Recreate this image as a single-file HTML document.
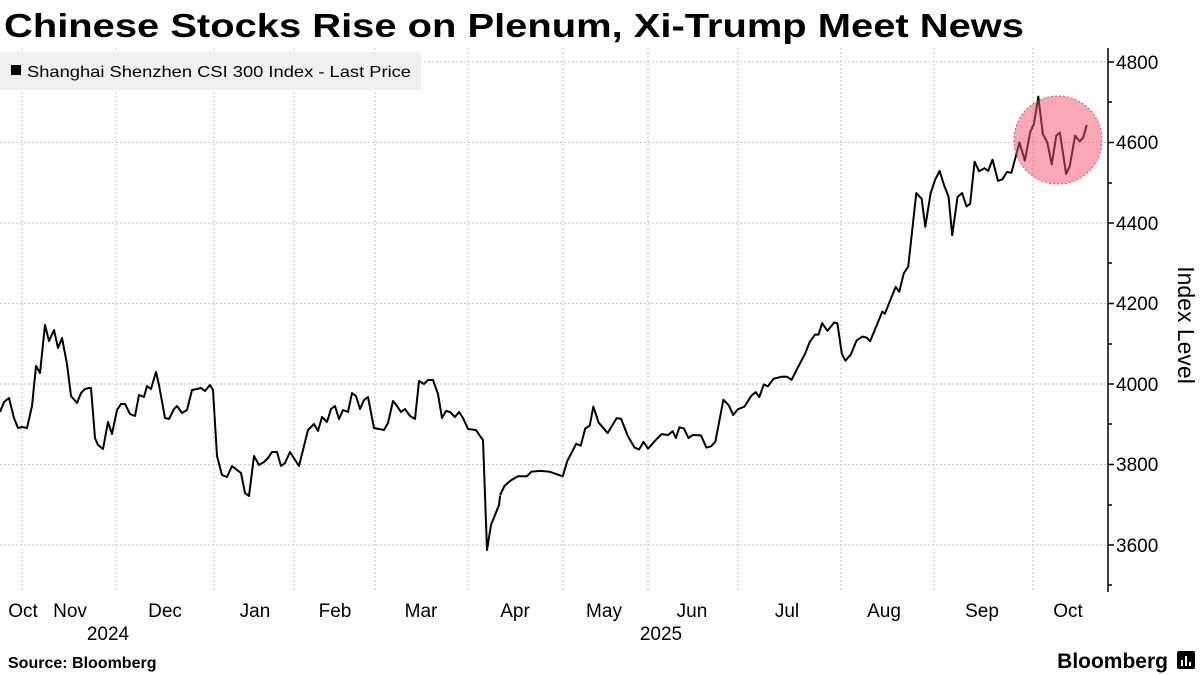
<!DOCTYPE html>
<html><head><meta charset="utf-8"><style>
html,body{margin:0;padding:0;background:#fff;}
svg{display:block;}
</style></head><body>
<svg width="1200" height="675" viewBox="0 0 1200 675" xmlns="http://www.w3.org/2000/svg" font-family="Liberation Sans, sans-serif">
<text x="4" y="37" font-size="33" font-weight="bold" fill="#000" textLength="1020" lengthAdjust="spacingAndGlyphs">Chinese Stocks Rise on Plenum, Xi-Trump Meet News</text>
<g stroke="#c8c8c8" stroke-width="1" stroke-dasharray="2,2">
<line x1="0" x2="1108" y1="62" y2="62"/><line x1="0" x2="1108" y1="142.5" y2="142.5"/><line x1="0" x2="1108" y1="223" y2="223"/><line x1="0" x2="1108" y1="303.5" y2="303.5"/><line x1="0" x2="1108" y1="384" y2="384"/><line x1="0" x2="1108" y1="464.5" y2="464.5"/><line x1="0" x2="1108" y1="545" y2="545"/>
<line x1="22" x2="22" y1="48" y2="592"/><line x1="116" x2="116" y1="48" y2="592"/><line x1="214" x2="214" y1="48" y2="592"/><line x1="294" x2="294" y1="48" y2="592"/><line x1="375" x2="375" y1="48" y2="592"/><line x1="468" x2="468" y1="48" y2="592"/><line x1="563" x2="563" y1="48" y2="592"/><line x1="648" x2="648" y1="48" y2="592"/><line x1="738" x2="738" y1="48" y2="592"/><line x1="841" x2="841" y1="48" y2="592"/><line x1="934" x2="934" y1="48" y2="592"/><line x1="1033" x2="1033" y1="48" y2="592"/>
</g>
<rect x="0" y="52" width="421" height="38" fill="#f0f0f0"/>
<rect x="11" y="65" width="10" height="10" fill="#000"/>
<text x="27" y="77" font-size="16" fill="#000" textLength="384" lengthAdjust="spacingAndGlyphs">Shanghai Shenzhen CSI 300 Index - Last Price</text>
<g fill="none" stroke="#000" stroke-width="2" stroke-linejoin="round">
<polyline points="0,412 4,402 9,398 14,418 18,428 22,427 27,428 32,406 36,366 40,373 45,325 49,341 54,330 58,348 62,338 67,364 71,396 77,403 81,393 85,389 89,388 91,388 95,438 98,445 103,449 108,422 112,434 117,410 121,404 125,404 130,414 135,416 139,395 144,397 147,386 151,389 156,372 159,385 165,418 169,419 174,409 177,406 182,413 187,410 192,390 197,389 201,388 205,391 210,385 213,390 217,456 222,475 227,477 232,466 237,470 241,473 245,493 249,496 254,456 259,465 264,462 268,458 272,452 277,452 281,466 285,463 290,452 299,466 308,430 314,424 318,431 322,417 327,422 331,409 335,406 339,419 343,410 348,412 352,393 356,396 360,409 364,400 368,397 374,428 384,430 388,423 393,401 397,406 401,412 405,409 410,416 415,419 419,381 424,384 428,380 433,380 438,394 442,418 446,411 450,412 455,417 459,412 463,418 468,429 476,430 480,436 483,440 487,550 491,525 499,505 500,496"/>
<g transform="translate(500,40) scale(0.4486,0.3827)">
<polyline vector-effect="non-scaling-stroke" points="0,1190 10,1165 25,1150 40,1140 60,1140 70,1128 90,1126 110,1128 130,1136 140,1140 150,1100 170,1055 180,1060 190,1015 200,1008 208,958 220,1000 240,1027 260,988 270,990 285,1035 300,1065 310,1070 320,1050 330,1068 345,1048 360,1030 375,1032 385,1022 392,1040 400,1012 410,1015 420,1040 430,1032 448,1033 460,1065 470,1062 480,1050 498,940 510,955 520,980 530,965 545,958 560,930 570,920 578,933 588,900 597,905 610,885 628,880 640,880 650,888 662,860 680,820 690,790 702,770 710,770 718,740 730,760 745,738 752,740 762,820 770,838 782,822 795,785 808,775 818,778 825,787 840,745 852,710 858,715 870,680 882,645 890,658 900,610 910,592 928,400 940,415 948,488 960,400 970,365 980,342 990,380 1000,410 1008,510 1020,410 1030,400 1040,435 1048,428 1058,318 1068,343 1080,335 1088,342 1098,313 1110,368 1120,364 1130,345 1140,347 1158,268 1170,315 1182,240 1190,220 1200,148 1210,245 1220,268 1230,325 1240,250 1248,242 1262,350 1270,330 1282,250 1292,265 1300,255 1308,222"/>
</g>
</g>
<circle cx="1058" cy="140" r="44" fill="rgba(245,80,110,0.5)" stroke="#e05070" stroke-width="1" stroke-dasharray="2,2"/>
<g stroke="#000" stroke-width="1.5">
<line x1="1108" x2="1108" y1="48" y2="592"/>
<line x1="1108" x2="1114" y1="62" y2="62"/><line x1="1108" x2="1112" y1="102" y2="102"/>
<line x1="1108" x2="1114" y1="142.5" y2="142.5"/><line x1="1108" x2="1112" y1="183" y2="183"/>
<line x1="1108" x2="1114" y1="223" y2="223"/><line x1="1108" x2="1112" y1="263" y2="263"/>
<line x1="1108" x2="1114" y1="303.5" y2="303.5"/><line x1="1108" x2="1112" y1="344" y2="344"/>
<line x1="1108" x2="1114" y1="384" y2="384"/><line x1="1108" x2="1112" y1="424" y2="424"/>
<line x1="1108" x2="1114" y1="464.5" y2="464.5"/><line x1="1108" x2="1112" y1="505" y2="505"/>
<line x1="1108" x2="1114" y1="545" y2="545"/><line x1="1108" x2="1112" y1="585" y2="585"/>
</g>
<g font-size="19" fill="#000">
<text x="1116" y="69">4800</text><text x="1116" y="149">4600</text><text x="1116" y="230">4400</text><text x="1116" y="310">4200</text><text x="1116" y="391">4000</text><text x="1116" y="471">3800</text><text x="1116" y="552">3600</text>
</g>
<text transform="translate(1178,325) rotate(90)" font-size="23" text-anchor="middle" fill="#000">Index Level</text>
<g font-size="19" fill="#000" text-anchor="middle">
<text x="23" y="617">Oct</text><text x="70" y="617">Nov</text><text x="165" y="617">Dec</text><text x="255" y="617">Jan</text><text x="335" y="617">Feb</text><text x="421" y="617">Mar</text><text x="515" y="617">Apr</text><text x="604" y="617">May</text><text x="692" y="617">Jun</text><text x="787" y="617">Jul</text><text x="884" y="617">Aug</text><text x="982" y="617">Sep</text><text x="1068" y="617">Oct</text>
<text x="108" y="640">2024</text><text x="661" y="640">2025</text>
</g>
<text x="8" y="668" font-size="16" font-weight="bold" fill="#000">Source: Bloomberg</text>
<text x="1168" y="668" font-size="21" font-weight="bold" fill="#000" text-anchor="end">Bloomberg</text>
<rect x="1177" y="651" width="18" height="18" rx="2" fill="#000"/>
<g fill="#fff"><rect x="1181" y="660" width="2" height="6"/><rect x="1185" y="656" width="2" height="10"/><rect x="1189" y="662" width="2" height="4"/></g>
</svg>
</body></html>
